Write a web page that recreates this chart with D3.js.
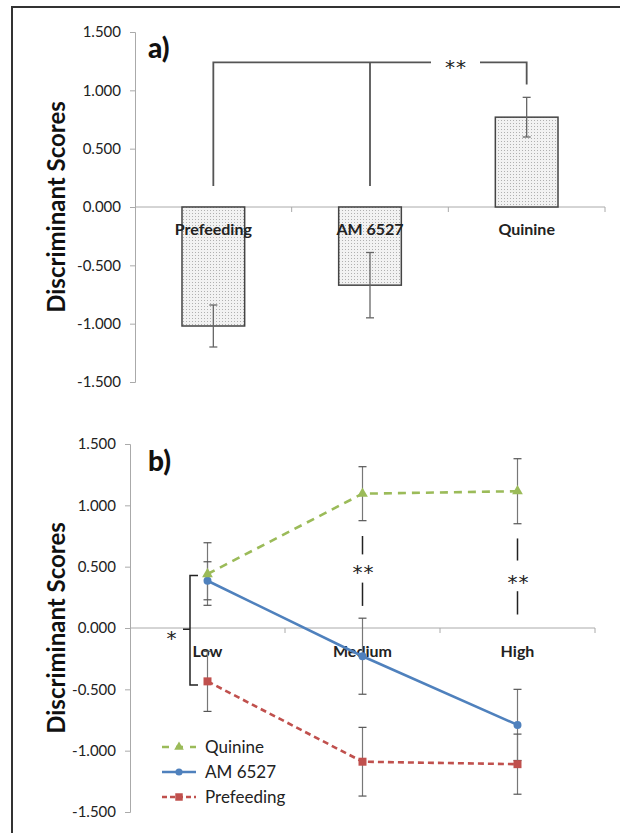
<!DOCTYPE html>
<html><head><meta charset="utf-8">
<script src="https://cdn.jsdelivr.net/npm/d3@7"></script>
<style>body{margin:0;background:#fff;} svg{display:block;font-family:Lato, "Open Sans", sans-serif;}</style>
</head><body>
<script>
// ---- data ----
const categoriesA = ["Prefeeding", "AM 6527", "Quinine"];
const meansA = [-1.02, -0.67, 0.77];
const errorsA = [0.18, 0.28, 0.17];
const yTicks = [1.5, 1.0, 0.5, 0.0, -0.5, -1.0, -1.5];
const levelsB = ["Low", "Medium", "High"];
const seriesNames = ["Quinine", "AM 6527", "Prefeeding"];
const quinineVals = [0.44, 1.095, 1.115];
const quinineErr = [0.255, 0.22, 0.265];
const am6527Vals = [0.385, -0.23, -0.79];
const am6527Err = [0.155, 0.31, 0.29];
const prefeedingVals = [-0.435, -1.09, -1.11];
const prefeedingErr = [0.245, 0.28, 0.245];
// significance annotation levels (data units)
const bracketA = {level: 1.24, lowEnd: 0.18, quinineEnd: 1.05};

const W = 620, H = 833;
const svg = d3.select("body").append("svg").attr("width", W).attr("height", H);
const fmt = d => d.toFixed(3);
const starFont = "'DejaVu Sans', sans-serif";

// frame
svg.append("line").attr("x1", 12).attr("x2", W).attr("y1", 7).attr("y2", 7).attr("stroke", "#333").attr("stroke-width", 2);
svg.append("line").attr("x1", 12).attr("x2", 12).attr("y1", 6).attr("y2", H).attr("stroke", "#333").attr("stroke-width", 2);

// pattern for bars
const defs = svg.append("defs");
const pat = defs.append("pattern").attr("id", "dots").attr("width", 3).attr("height", 3).attr("patternUnits", "userSpaceOnUse");
pat.append("rect").attr("width", 3).attr("height", 3).attr("fill", "#f2f2f2");
pat.append("rect").attr("width", 1).attr("height", 1).attr("fill", "#b0b0b0");

function yAxis(g, y, x0) {
  const ax = d3.axisLeft(y).tickValues(yTicks).tickFormat(fmt).tickSize(5).tickPadding(9);
  g.attr("transform", `translate(${x0},0)`).call(ax);
  g.select(".domain").attr("stroke", "#aaa");
  g.selectAll(".tick line").attr("stroke", "#aaa");
  g.selectAll(".tick text").attr("fill", "#222").attr("font-size", 15).attr("font-family", "Lato, sans-serif");
}
function xBaseline(g, x, y0, ticksAt) {
  const [a, b] = x.range();
  g.append("line").attr("x1", a).attr("x2", b).attr("y1", y0).attr("y2", y0).attr("stroke", "#aaa");
  g.selectAll(".xt").data(ticksAt).join("line").attr("class", "xt")
    .attr("x1", d => d).attr("x2", d => d).attr("y1", y0).attr("y2", y0 + 5).attr("stroke", "#aaa");
}
function stars(g, x, yc, txt) {
  g.append("text").attr("x", x).attr("y", yc + 11).attr("text-anchor", "middle")
    .attr("font-family", starFont).attr("font-size", 20).attr("fill", "#222").attr("letter-spacing", 1).text(txt);
}

// ---------- panel a ----------
const ga = svg.append("g");
const xA = d3.scaleBand().domain(categoriesA).range([135, 605]).padding(0);
const yA = d3.scaleLinear().domain([-1.5, 1.5]).range([382, 32]);
const barW = xA.bandwidth() * 0.4;
const cxA = d => xA(d) + xA.bandwidth() / 2;

xBaseline(ga, xA, yA(0), categoriesA.map(c => xA(c) + xA.bandwidth()));
yAxis(ga.append("g"), yA, 135);

ga.selectAll(".bar").data(categoriesA).join("rect").attr("class", "bar")
  .attr("x", d => cxA(d) - barW / 2)
  .attr("width", barW)
  .attr("y", (d, i) => yA(Math.max(0, meansA[i])))
  .attr("height", (d, i) => Math.abs(yA(meansA[i]) - yA(0)))
  .attr("fill", "url(#dots)").attr("stroke", "#444").attr("stroke-width", 1.5);

categoriesA.forEach((c, i) => {
  const cx = cxA(c), t = yA(meansA[i] + errorsA[i]), b = yA(meansA[i] - errorsA[i]);
  ga.append("line").attr("x1", cx).attr("x2", cx).attr("y1", t).attr("y2", b).attr("stroke", "#666").attr("stroke-width", 1.3);
  [t, b].forEach(yy => ga.append("line").attr("x1", cx - 4).attr("x2", cx + 4).attr("y1", yy).attr("y2", yy).attr("stroke", "#666").attr("stroke-width", 1.3));
});

ga.selectAll(".cat").data(categoriesA).join("text").attr("class", "cat")
  .attr("x", d => cxA(d)).attr("y", yA(0) + 28).attr("text-anchor", "middle")
  .attr("font-size", 16).attr("font-weight", "bold").attr("fill", "#222").text(d => d);

// bracket a
{
  const yl = yA(bracketA.level);
  const x1 = cxA(categoriesA[0]), x2 = cxA(categoriesA[1]), x3 = cxA(categoriesA[2]);
  const st = {stroke: "#555", "stroke-width": 1.8, fill: "none"};
  const p = ga.append("path").attr("d", `M${x1},${yA(bracketA.lowEnd)}V${yl}H${431}`);
  const p2 = ga.append("path").attr("d", `M${x2},${yA(bracketA.lowEnd)}V${yl}`);
  const p3 = ga.append("path").attr("d", `M${480},${yl}H${x3}V${yA(bracketA.quinineEnd)}`);
  [p, p2, p3].forEach(q => Object.entries(st).forEach(([k, v]) => q.attr(k, v)));
  stars(ga, 456, yl + 1, "**");
}
ga.append("text").attr("x", 148).attr("y", 58).attr("font-size", 28).attr("font-weight", 900).attr("fill", "#111").text("a)");
ga.append("text").attr("transform", `translate(65,${yA(0)}) rotate(-90)`).attr("text-anchor", "middle")
  .attr("font-size", 24).attr("font-weight", "bold").attr("fill", "#111").text("Discriminant Scores");

// ---------- panel b ----------
const gb = svg.append("g");
const xB = d3.scaleBand().domain(levelsB).range([130, 595]).padding(0);
const yB = d3.scaleLinear().domain([-1.5, 1.5]).range([812, 444]);
const cxB = d => xB(d) + xB.bandwidth() / 2;

xBaseline(gb, xB, yB(0), levelsB.map(c => xB(c) + xB.bandwidth()));
yAxis(gb.append("g"), yB, 130);

gb.selectAll(".cat").data(levelsB).join("text").attr("class", "cat")
  .attr("x", d => cxB(d)).attr("y", yB(0) + 29).attr("text-anchor", "middle")
  .attr("font-size", 16).attr("font-weight", "bold").attr("fill", "#222").text(d => d);

const series = [
  {name: "Quinine", vals: quinineVals, err: quinineErr, color: "#9BBB59", dash: "8,6", sym: d3.symbolTriangle},
  {name: "AM 6527", vals: am6527Vals, err: am6527Err, color: "#4F81BD", dash: null, sym: d3.symbolCircle},
  {name: "Prefeeding", vals: prefeedingVals, err: prefeedingErr, color: "#C0504D", dash: "6,4", sym: d3.symbolSquare}
];
// error bars first
series.forEach(s => {
  levelsB.forEach((l, i) => {
    const cx = cxB(l), t = yB(s.vals[i] + s.err[i]), b = yB(s.vals[i] - s.err[i]);
    gb.append("line").attr("x1", cx).attr("x2", cx).attr("y1", t).attr("y2", b).attr("stroke", "#777").attr("stroke-width", 1.2);
    [t, b].forEach(yy => gb.append("line").attr("x1", cx - 4).attr("x2", cx + 4).attr("y1", yy).attr("y2", yy).attr("stroke", "#555").attr("stroke-width", 1.2));
  });
});
const line = d3.line().x((d, i) => cxB(levelsB[i])).y(d => yB(d));
series.slice().reverse().forEach(s => {
  const p = gb.append("path").datum(s.vals).attr("d", line).attr("fill", "none").attr("stroke", s.color).attr("stroke-width", 2.6);
  if (s.dash) p.attr("stroke-dasharray", s.dash);
  gb.selectAll(null).data(s.vals).join("path")
    .attr("transform", (d, i) => `translate(${cxB(levelsB[i])},${yB(d)})`)
    .attr("d", d3.symbol().type(s.sym).size(s.sym === d3.symbolSquare ? 64 : 50)).attr("fill", s.color);
});

// significance marks b
const sigB = [
  {lvl: "Medium", segs: [[0.75, 0.60], [0.37, 0.18]], star: 0.49},
  {lvl: "High", segs: [[0.73, 0.55], [0.30, 0.11]], star: 0.41}
];
sigB.forEach(s => {
  const cx = cxB(s.lvl);
  s.segs.forEach(([a, b]) => gb.append("line").attr("x1", cx).attr("x2", cx).attr("y1", yB(a)).attr("y2", yB(b)).attr("stroke", "#222").attr("stroke-width", 1.5));
  stars(gb, cx + 1, yB(s.star), "**");
});
// bracket at Low
{
  const xb = 190, yt = yB(0.427), yb = yB(-0.465), ym = yB(-0.01);
  gb.append("path").attr("d", `M198,${yt}H${xb}V${yb}H198`).attr("fill", "none").attr("stroke", "#222").attr("stroke-width", 1.5);
  gb.append("line").attr("x1", xb).attr("x2", 183).attr("y1", ym).attr("y2", ym).attr("stroke", "#222").attr("stroke-width", 1.5);
  stars(gb, 172, ym + 5, "*");
}
gb.append("text").attr("x", 148).attr("y", 471).attr("font-size", 28).attr("font-weight", 900).attr("fill", "#111").text("b)");
gb.append("text").attr("transform", `translate(65,${yB(0)}) rotate(-90)`).attr("text-anchor", "middle")
  .attr("font-size", 24).attr("font-weight", "bold").attr("fill", "#111").text("Discriminant Scores");

// legend
const lg = gb.append("g");
series.forEach((s, i) => {
  const yy = 747 + i * 25;
  const ln = lg.append("line").attr("x1", 162).attr("x2", 196).attr("y1", yy).attr("y2", yy).attr("stroke", s.color).attr("stroke-width", 2.6);
  if (s.dash) ln.attr("stroke-dasharray", s.dash === "8,6" ? "7,7" : "5,3");
  lg.append("path").attr("transform", `translate(179,${yy})`).attr("d", d3.symbol().type(s.sym).size(s.sym === d3.symbolSquare ? 56 : 40)).attr("fill", s.color);
  lg.append("text").attr("x", 205).attr("y", yy + 6).attr("font-size", 17).attr("fill", "#222").text(s.name);
});
</script>
</body></html>
